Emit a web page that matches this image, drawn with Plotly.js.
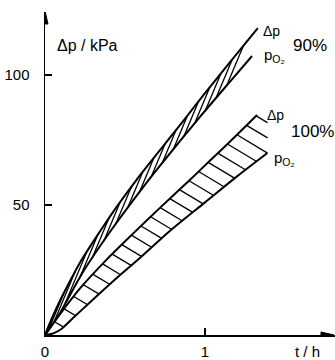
<!DOCTYPE html>
<html>
<head>
<meta charset="utf-8">
<script src="https://cdn.plot.ly/plotly-3.0.1.min.js"></script>
<style>html,body{margin:0;padding:0;background:#fff}#chart{width:335px;height:360px}</style>
</head>
<body>
<div id="chart"></div>
<script>
// 90 % curves (t in h, value in kPa)
const t90dp  = [0, 0.04, 0.08, 0.15, 0.22, 0.34, 0.45, 0.57, 0.75, 0.86, 1.0, 1.15, 1.33];
const v90dp  = [0, 6, 11.5, 20, 28, 39.5, 49.5, 59.5, 73.5, 82, 93, 104.5, 118];
const t90po2 = [0, 0.04, 0.094, 0.24, 0.41, 0.64, 0.75, 0.97, 1.15, 1.294];
const v90po2 = [0, 3.5, 8.5, 24.5, 40, 59, 67.5, 84, 97, 107.3];
// 100 % curves
const t100dp  = [0, 0.094, 0.22, 0.385, 0.55, 0.72, 0.92, 1.03, 1.2, 1.325];
const v100dp  = [0, 8, 18, 29, 39, 49, 60.5, 67, 77, 84.6];
const t100po2 = [0, 0.05, 0.1, 0.175, 0.28, 0.45, 0.6, 0.78, 1.0, 1.2, 1.39];
const v100po2 = [0, 0.6, 2.2, 6.5, 12.5, 22, 30, 40, 51, 61, 70];

const xTickVals = [0, 1], xTickText = ['0', '1'];
const yTickVals = [50, 100], yTickText = ['50', '100'];

const FONT = '"Liberation Sans", Arial, sans-serif';
const PXT = 160, PXV = 2.6; // approx pixels per unit (for hatch direction only)

function interp(ts, vs, t) {
  if (t <= ts[0]) return vs[0];
  for (let i = 1; i < ts.length; i++) {
    if (t <= ts[i]) {
      const f = (t - ts[i-1]) / (ts[i] - ts[i-1]);
      return vs[i-1] + f * (vs[i] - vs[i-1]);
    }
  }
  return vs[vs.length - 1];
}

function hatches(tu, vu, tl, vl, dxp, dyp, t0, t1, dt) {
  const xs = [], ys = [];
  const tEnd = tl[tl.length - 1];
  for (let ts = t0; ts <= t1 + 1e-9; ts += dt) {
    const vs = interp(tu, vu, ts);
    let s = 0, tt = ts, vv = vs;
    while (s < 200) {
      s += 0.25;
      tt = ts + dxp * s / PXT;
      vv = vs - dyp * s / PXV;
      if (tt >= tEnd) break;
      if (vv <= interp(tl, vl, tt)) break;
      if (tt <= 0) break;
    }
    xs.push(ts, tt, null);
    ys.push(vs, vv, null);
  }
  return {xs, ys};
}

const h90 = hatches(t90dp, v90dp, t90po2, v90po2, -0.42, 1, 0.05, 1.30, 0.07);
const h100 = hatches(t100dp, v100dp, t100po2, v100po2, 1, 0.6, 0.06, 1.32, 0.06);

const curve = (x, y) => ({x, y, type: 'scatter', mode: 'lines',
  line: {color: '#000', width: 2, shape: 'spline', smoothing: 0.8}, hoverinfo: 'skip'});
const hatch = (h) => ({x: h.xs, y: h.ys, type: 'scatter', mode: 'lines',
  line: {color: '#000', width: 1.3}, hoverinfo: 'skip', connectgaps: false});

const data = [
  curve(t90dp, v90dp), curve(t90po2, v90po2),
  curve(t100dp, v100dp), curve(t100po2, v100po2),
  hatch(h90), hatch(h100)
];

const px2t = (px) => (px - 45) / 160;
const px2v = (py) => (335 - py) / 2.6;

const ann = (text, px, py, size) => ({text, x: px2t(px), y: px2v(py), xref: 'x', yref: 'y',
  xanchor: 'left', yanchor: 'middle', showarrow: false, font: {family: FONT, size: size, color: '#000'}});

const annotations = [
  ann('Δp / kPa', 55, 45, 16),
  ann('Δp', 261, 31, 14),
  ann('p<sub>O₂</sub>', 262, 55, 15),
  ann('90%', 291, 45, 17),
  ann('Δp', 265, 115, 14),
  ann('100%', 289, 131, 17),
  ann('p<sub>O₂</sub>', 272, 158, 15),
  {text: 't / h', x: px2t(307), y: 0, xref: 'x', yref: 'y', yshift: -16, xanchor: 'center', yanchor: 'middle',
   showarrow: false, font: {family: FONT, size: 15, color: '#000'}}
];

// arrowheads at the ends of the axes (decoration)
const shapes = [
  {type: 'path', xref: 'x', yref: 'y', fillcolor: '#000', line: {color: '#000', width: 1},
   path: `M ${px2t(45)} ${px2v(11)} L ${px2t(42)} ${px2v(24)} L ${px2t(48)} ${px2v(24)} Z`},
  {type: 'path', xref: 'x', yref: 'y', fillcolor: '#000', line: {color: '#000', width: 1},
   path: `M ${px2t(334)} ${px2v(335)} L ${px2t(321)} ${px2v(332)} L ${px2t(321)} ${px2v(338)} Z`}
];

const layout = {
  width: 335, height: 360,
  margin: {l: 45, r: 0, t: 12, b: 25, pad: 0},
  paper_bgcolor: '#fff', plot_bgcolor: '#fff',
  showlegend: false,
  xaxis: {range: [0, px2t(335)], showgrid: false, zeroline: false, showline: true, linecolor: '#000', linewidth: 1.5,
          ticks: 'inside', ticklen: 7, tickwidth: 1.5, tickcolor: '#000',
          tickvals: xTickVals, ticktext: xTickText, ticklabelstandoff: 2,
          tickfont: {family: FONT, size: 15, color: '#000'}, fixedrange: true},
  yaxis: {range: [0, px2v(12)], showgrid: false, zeroline: false, showline: true, linecolor: '#000', linewidth: 1.5,
          ticks: 'inside', ticklen: 7, tickwidth: 1.5, tickcolor: '#000',
          tickvals: yTickVals, ticktext: yTickText, ticklabelstandoff: 11,
          tickfont: {family: FONT, size: 15, color: '#000'}, fixedrange: true},
  shapes,
  annotations
};

Plotly.newPlot('chart', data, layout, {displayModeBar: false, staticPlot: true});
</script>
</body>
</html>
